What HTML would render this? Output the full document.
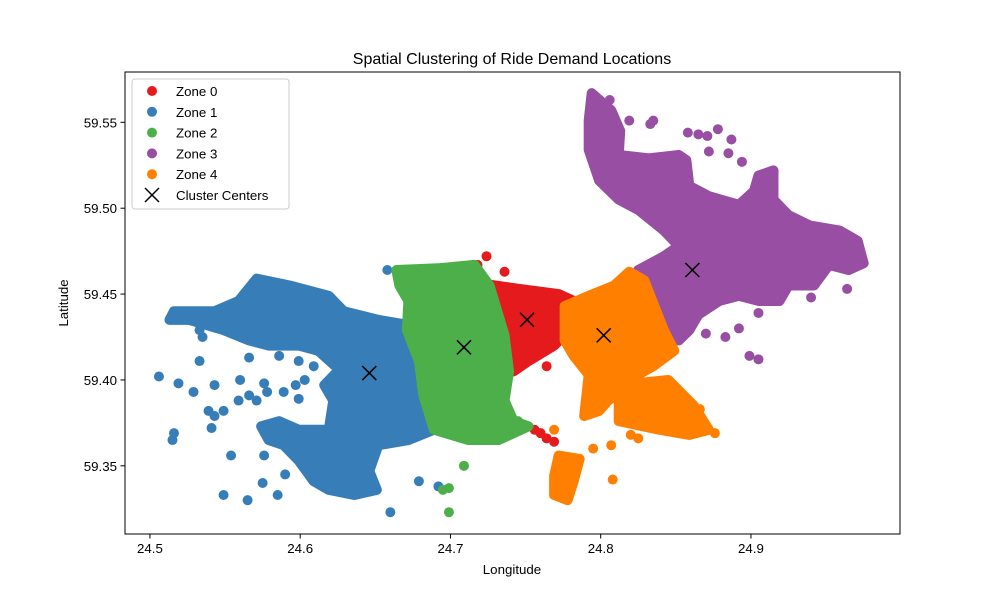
<!DOCTYPE html>
<html><head><meta charset="utf-8"><style>
body{margin:0;background:#fff;font-family:"Liberation Sans",sans-serif}
svg text{font-family:"Liberation Sans",sans-serif;fill:#000}
</style></head><body>
<svg id="chart" width="1000" height="600" viewBox="0 0 1000 600">
<rect width="1000" height="600" fill="#fff"/>
<text x="512" y="64" font-size="16" text-anchor="middle">Spatial Clustering of Ride Demand Locations</text>
<g id="plot"></g>
<rect x="125" y="72" width="775" height="462" fill="none" stroke="#000" stroke-width="1"/>
<g id="xticks"></g>
<g id="yticks"></g>
<text x="512" y="574" font-size="13.3" text-anchor="middle">Longitude</text>
<text x="68" y="303" font-size="13.3" text-anchor="middle" transform="rotate(-90 68 303)">Latitude</text>
<g id="legend"></g>
</svg>
<script>
const zoneNames = ["Zone 0","Zone 1","Zone 2","Zone 3","Zone 4"];
const zoneColors = ["#e41a1c","#377eb8","#4daf4a","#984ea3","#ff7f00"];
const xTicks = [24.5,24.6,24.7,24.8,24.9];
const xTickLabels = ["24.5","24.6","24.7","24.8","24.9"];
const yTicks = [59.35,59.40,59.45,59.50,59.55];
const yTickLabels = ["59.35","59.40","59.45","59.50","59.55"];
// dense regions (lon,lat outlines)
const zone0Areas = [[[24.722,59.456],[24.746,59.453],[24.772,59.450],[24.782,59.446],[24.779,59.429],[24.769,59.420],[24.752,59.411],[24.742,59.405],[24.736,59.420],[24.729,59.440]]];
const zone1Areas = [[[24.571,59.459],[24.593,59.455],[24.619,59.449],[24.629,59.440],[24.652,59.435],[24.672,59.432],[24.679,59.420],[24.682,59.400],[24.689,59.371],[24.672,59.365],[24.652,59.362],[24.646,59.347],[24.651,59.336],[24.636,59.333],[24.619,59.336],[24.609,59.341],[24.599,59.353],[24.589,59.362],[24.579,59.365],[24.574,59.373],[24.586,59.376],[24.599,59.371],[24.619,59.371],[24.622,59.388],[24.616,59.397],[24.626,59.406],[24.612,59.417],[24.599,59.420],[24.579,59.420],[24.566,59.423],[24.549,59.429],[24.526,59.435],[24.513,59.435],[24.516,59.440],[24.543,59.440],[24.559,59.446]]];
const zone2Areas = [[[24.664,59.464],[24.692,59.465],[24.716,59.467],[24.726,59.455],[24.736,59.426],[24.739,59.405],[24.736,59.388],[24.742,59.376],[24.752,59.373],[24.732,59.365],[24.712,59.365],[24.689,59.371],[24.682,59.391],[24.679,59.411],[24.671,59.429],[24.672,59.446],[24.666,59.455]]];
const zone3Areas = [[[24.794,59.567],[24.807,59.557],[24.813,59.545],[24.812,59.531],[24.832,59.529],[24.852,59.531],[24.857,59.528],[24.859,59.513],[24.872,59.507],[24.892,59.502],[24.902,59.510],[24.905,59.519],[24.915,59.522],[24.915,59.505],[24.925,59.496],[24.939,59.490],[24.959,59.487],[24.971,59.481],[24.975,59.468],[24.965,59.464],[24.952,59.467],[24.942,59.455],[24.925,59.455],[24.919,59.446],[24.905,59.446],[24.892,59.449],[24.879,59.446],[24.865,59.438],[24.859,59.429],[24.852,59.423],[24.842,59.429],[24.832,59.446],[24.825,59.455],[24.825,59.464],[24.842,59.472],[24.852,59.478],[24.842,59.487],[24.825,59.499],[24.812,59.505],[24.799,59.516],[24.792,59.534],[24.792,59.551]]];
const zone4Areas = [
 [[24.776,59.443],[24.792,59.449],[24.809,59.455],[24.819,59.463],[24.829,59.458],[24.842,59.429],[24.849,59.417],[24.835,59.408],[24.825,59.403],[24.815,59.394],[24.805,59.388],[24.799,59.382],[24.789,59.379],[24.792,59.403],[24.782,59.414],[24.776,59.423]],
 [[24.812,59.397],[24.845,59.400],[24.862,59.385],[24.872,59.371],[24.859,59.368],[24.839,59.371],[24.812,59.376]],
 [[24.772,59.356],[24.786,59.354],[24.782,59.341],[24.778,59.330],[24.769,59.333],[24.769,59.344]]];
// scattered points
const zone0Points = [[24.724,59.472],[24.718,59.467],[24.736,59.463],[24.764,59.408],[24.756,59.371],[24.764,59.366],[24.769,59.364],[24.760,59.369]];
const zone1Points = [[24.506,59.402],[24.516,59.369],[24.515,59.365],[24.519,59.398],[24.529,59.393],[24.533,59.411],[24.543,59.397],[24.539,59.382],[24.549,59.333],[24.554,59.356],[24.565,59.330],[24.559,59.388],[24.571,59.388],[24.576,59.356],[24.585,59.333],[24.660,59.323],[24.658,59.464],[24.679,59.341],[24.692,59.338],[24.533,59.429],[24.519,59.438],[24.535,59.425],[24.560,59.400],[24.590,59.345],[24.575,59.340],[24.566,59.391],[24.578,59.393],[24.589,59.393],[24.599,59.389],[24.597,59.397],[24.603,59.400],[24.543,59.379],[24.549,59.382],[24.541,59.372],[24.566,59.413],[24.576,59.398],[24.586,59.414],[24.599,59.411],[24.609,59.408]];
const zone2Points = [[24.709,59.350],[24.699,59.337],[24.699,59.323],[24.695,59.336],[24.745,59.376],[24.668,59.462]];
const zone3Points = [[24.835,59.551],[24.833,59.549],[24.858,59.544],[24.865,59.543],[24.871,59.542],[24.878,59.546],[24.887,59.540],[24.872,59.533],[24.885,59.532],[24.894,59.527],[24.806,59.563],[24.964,59.453],[24.940,59.448],[24.905,59.439],[24.899,59.414],[24.905,59.412],[24.975,59.468],[24.819,59.551],[24.929,59.458],[24.955,59.475],[24.883,59.425],[24.892,59.430],[24.870,59.427]];
const zone4Points = [[24.808,59.342],[24.807,59.362],[24.825,59.366],[24.876,59.369],[24.769,59.371],[24.795,59.360],[24.820,59.368],[24.866,59.383]];
const centerLon = [24.751,24.646,24.709,24.861,24.802];
const centerLat = [59.435,59.404,59.419,59.464,59.426];

const NS="http://www.w3.org/2000/svg";
const xMin=24.4834, xMax=24.9992, yMin=59.3103, yMax=59.5793;
const L=125,R=900,T=72,B=534;
const sx=v=>L+(v-xMin)/(xMax-xMin)*(R-L);
const sy=v=>B-(v-yMin)/(yMax-yMin)*(B-T);
function mk(tag,attrs,parent){const e=document.createElementNS(NS,tag);for(const k in attrs)e.setAttribute(k,attrs[k]);parent.appendChild(e);return e;}
const plot=document.getElementById('plot');
const areas=[zone0Areas,zone1Areas,zone2Areas,zone3Areas,zone4Areas];
const pts=[zone0Points,zone1Points,zone2Points,zone3Points,zone4Points];
for(let z=0;z<5;z++){
  const g=mk('g',{},plot);
  
  
  areas[z].forEach(poly=>{
    const p=mk('polygon',{points:poly.map(d=>sx(d[0])+','+sy(d[1])).join(' '),fill:zoneColors[z],stroke:zoneColors[z],'stroke-width':10,'stroke-linejoin':'round'},g);
    
    
  });
  pts[z].forEach(d=>{
    const c=mk('circle',{cx:sx(d[0]),cy:sy(d[1]),r:5,fill:zoneColors[z]},g);
    
    
  });
}
for(let i=0;i<centerLon.length;i++){
  const x=sx(centerLon[i]),y=sy(centerLat[i]);
  const p=mk('path',{d:`M${x-7},${y-7}L${x+7},${y+7}M${x-7},${y+7}L${x+7},${y-7}`,stroke:'#000','stroke-width':1.5,fill:'none'},plot);
  
  
}
const xg=document.getElementById('xticks');
xTicks.forEach((v,i)=>{
  const x=sx(v);
  const l=mk('line',{x1:x,x2:x,y1:B,y2:B+4.5,stroke:'#000'},xg);
  
  
  const t=mk('text',{x:x,y:B+19,'font-size':13.3,'text-anchor':'middle'},xg);
  t.textContent=xTickLabels[i];
  
  
});
const yg=document.getElementById('yticks');
yTicks.forEach((v,i)=>{
  const y=sy(v);
  const l=mk('line',{x1:L-4.5,x2:L,y1:y,y2:y,stroke:'#000'},yg);
  
  
  const t=mk('text',{x:L-8,y:y+5,'font-size':13.3,'text-anchor':'end'},yg);
  t.textContent=yTickLabels[i];
  
  
});
const lg=document.getElementById('legend');
const box=mk('rect',{x:132,y:79,width:157,height:130,rx:3,fill:'#fff','fill-opacity':0.8,stroke:'#ccc'},lg);


zoneNames.forEach((n,i)=>{
  const y=91+i*20.8;
  const c=mk('circle',{cx:152,cy:y,r:5,fill:zoneColors[i]},lg);
  
  
  const t=mk('text',{x:176,y:y+5,'font-size':13.3},lg);
  t.textContent=n;
  
  
});
{
  const y=91+5*20.8;
  const p=mk('path',{d:`M145,${y-7}L159,${y+7}M145,${y+7}L159,${y-7}`,stroke:'#000','stroke-width':1.5},lg);
  
  
  const t=mk('text',{x:176,y:y+5,'font-size':13.3},lg);
  t.textContent='Cluster Centers';
  
  
}
</script>
</body></html>
